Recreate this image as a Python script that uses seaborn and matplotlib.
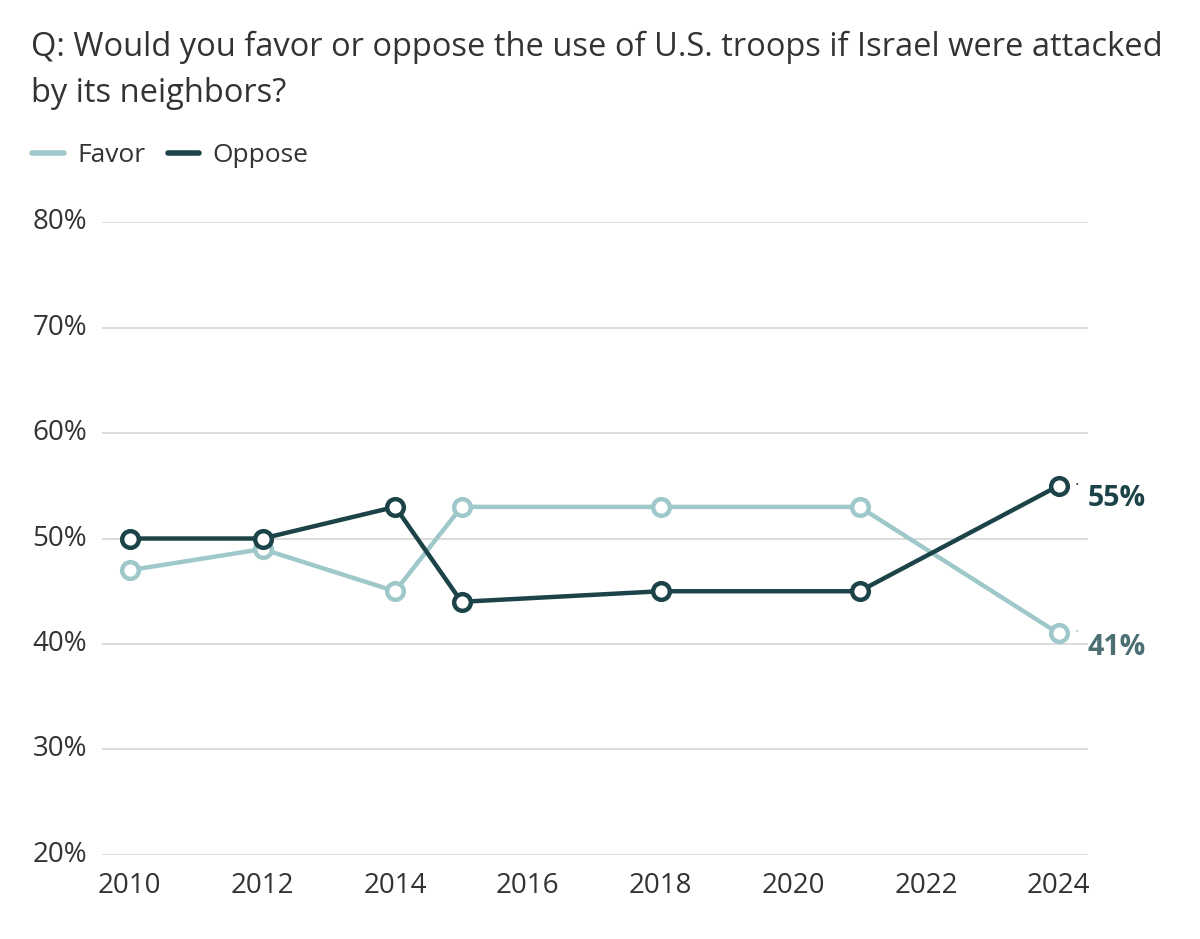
import matplotlib
matplotlib.use("Agg")
import matplotlib.pyplot as plt
from matplotlib.lines import Line2D
import seaborn as sns
import pandas as pd

years = [2010, 2012, 2014, 2015, 2018, 2021, 2024]
favor = [47, 49, 45, 53, 53, 53, 41]
oppose = [50, 50, 53, 44, 45, 45, 55]
series_names = ["Favor", "Oppose"]
colors = {"Favor": "#9fc8cb", "Oppose": "#1c4448"}
label_colors = {"Favor": "#4b6f73", "Oppose": "#1c4448"}
y_ticks = [20, 30, 40, 50, 60, 70, 80]
x_ticks = [2010, 2012, 2014, 2016, 2018, 2020, 2022, 2024]
title = "Q: Would you favor or oppose the use of U.S. troops if Israel were attacked\nby its neighbors?"

df = pd.DataFrame({
    "year": years * 2,
    "value": favor + oppose,
    "series": ["Favor"] * len(years) + ["Oppose"] * len(years),
})

sns.set_theme(style="white")
plt.rcParams["font.family"] = ["Open Sans", "DejaVu Sans"]

fig = plt.figure(figsize=(12, 9.39), dpi=100)
ax = fig.add_axes([0.085, 0.0895, 0.822, 0.674])

for yt in y_ticks:
    ax.axhline(yt, color="#dcdcdc", lw=1.4, zorder=0)

sns.lineplot(data=df, x="year", y="value", hue="series", palette=colors,
             hue_order=series_names, ax=ax, lw=3.2, marker="o", markersize=12,
             markerfacecolor="white", markeredgewidth=3.2, legend=False,
             zorder=3)
for line, name in zip(ax.get_lines()[len(y_ticks):], series_names):
    line.set_markeredgecolor(colors[name])
    line.set_clip_on(False)

ax.set_xlim(2009.58, 2024.45)
ax.set_ylim(20, 80)
ax.set_yticks(y_ticks)
ax.set_yticklabels([f"{v}%" for v in y_ticks])
ax.set_xticks(x_ticks)
ax.set_xticklabels([str(v) for v in x_ticks])
ax.set_xlabel("")
ax.set_ylabel("")
for s in ax.spines.values():
    s.set_visible(False)
ax.tick_params(axis="y", length=0, pad=50, labelsize=20, labelcolor="#333333")
ax.tick_params(axis="x", length=0, pad=12, labelsize=20, labelcolor="#333333")
for lab in ax.get_yticklabels():
    lab.set_horizontalalignment("left")
    lab.set_verticalalignment("center")

# end labels
for name, vals, dy in [("Oppose", oppose, -9), ("Favor", favor, -10)]:
    ax.annotate(f"{vals[-1]}%", xy=(years[-1], vals[-1]), xytext=(21, dy),
                textcoords="offset points", ha="left", va="center",
                fontsize=20.5, fontweight="bold", color=label_colors[name])
    ax.annotate("·", xy=(years[-1], vals[-1]), xytext=(13, 0),
                textcoords="offset points", ha="center", va="center",
                fontsize=12, color=colors[name])

fig.text(0.026, 0.967, title, ha="left", va="top", fontsize=23.5,
         color="#333333", linespacing=1.5)

handles = [Line2D([0], [0], color=colors[n], lw=4, solid_capstyle="round") for n in series_names]
fig.legend(handles, series_names, loc="center left", bbox_to_anchor=(0.027, 0.834),
           ncol=2, frameon=False, fontsize=19, handlelength=1.2, handletextpad=0.5,
           columnspacing=0.85, borderpad=0, borderaxespad=0, labelcolor="#333333")

fig.savefig("out.png", dpi=100, facecolor="white")
